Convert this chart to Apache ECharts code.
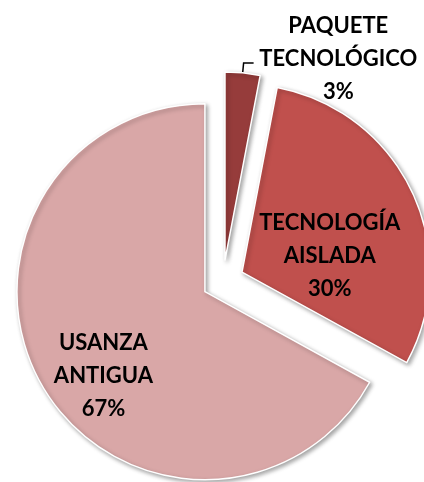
<!DOCTYPE html>
<html>
<head>
<meta charset="utf-8">
<script src="https://cdn.jsdelivr.net/npm/echarts@6/dist/echarts.min.js"></script>
<style>
  html, body { margin: 0; padding: 0; background: #fff; }
  #main { width: 424px; height: 482px; }
</style>
</head>
<body>
<div id="main"></div>
<script>
var categories = ['PAQUETE TECNOLÓGICO', 'TECNOLOGÍA AISLADA', 'USANZA ANTIGUA'];
var values = [3, 30, 67];
var colors = ['#963c3b', '#c0504d', '#d9a7a7'];

// label nudges (layout only)
var labelShift = [
    { dx: 0, dy: -4 },
    { dx: 0, dy: 25 },
    { dx: -18, dy: 35 }
];

var myChart = echarts.init(document.getElementById('main'));

var data = categories.map(function (name, i) {
    return {
        name: name,
        value: values[i],
        selected: true,
        itemStyle: { color: colors[i] },
        label: i === 0
            ? { position: 'outside', distanceToLabelLine: 7, overflow: 'none' }
            : { position: 'inside' },
        labelLine: { show: i === 0 }
    };
});

var option = {
    backgroundColor: '#ffffff',
    animation: false,
    series: [
        {
            type: 'pie',
            center: [223, 281],
            radius: 188,
            startAngle: 90,
            clockwise: true,
            selectedMode: 'multiple',
            selectedOffset: 21,
            data: data,
            itemStyle: {
                borderColor: '#ffffff',
                borderWidth: 1.5,
                shadowBlur: 4,
                shadowOffsetX: 2,
                shadowOffsetY: 2,
                shadowColor: 'rgba(0,0,0,0.35)'
            },
            label: {
                formatter: function (p) {
                    var lines = p.name.split(' ').concat([p.percent + '%']);
                    return lines.map(function (s) { return '{c|' + s + '}'; }).join('\n');
                },
                rich: {
                    c: {
                        color: '#000',
                        fontFamily: 'Lato',
                        fontWeight: 'bold',
                        fontSize: 22,
                        lineHeight: 33,
                        align: 'center'
                    }
                },
                color: '#000',
                fontFamily: 'Lato',
                fontWeight: 'bold',
                fontSize: 22,
                lineHeight: 33
            },
            labelLine: {
                length: 10,
                length2: 10,
                lineStyle: { color: '#000', width: 1.5 }
            },
            select: {
                itemStyle: {
                    borderColor: '#ffffff',
                    borderWidth: 1.5
                }
            },
            emphasis: { disabled: true },
            labelLayout: function (params) {
                return labelShift[params.dataIndex];
            }
        }
    ]
};
myChart.setOption(option);
</script>
</body>
</html>
